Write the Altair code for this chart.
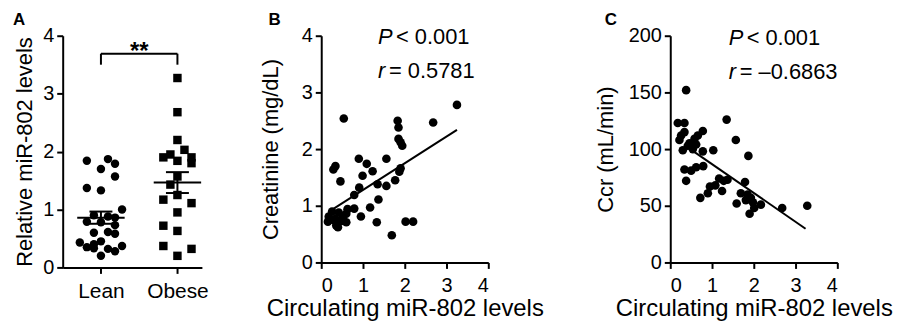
import altair as alt
import pandas as pd

FONT = "Liberation Sans"

# ---------------- Panel A data ----------------
groups = ["Lean", "Obese"]
lean_vals = [1.84, 1.87, 1.79, 1.70, 1.57, 1.37, 1.33, 1.00, 0.90, 0.88, 0.86, 0.79, 0.78,
             0.73, 0.60, 0.61, 0.58, 0.45, 0.43, 0.40, 0.37, 0.35, 0.33, 0.32, 0.28, 0.20]
lean_slot = [-2, 1, 2, 0, 2, -2, 0, 3, -1, 1, 2, -2, 0,
             2, -1, 1, 2, 0, -3, -1, 3, -2, -1, 1, 2, 0]
obese_vals = [3.27, 2.68, 2.20, 2.03, 1.95, 1.90, 1.84, 1.90, 1.80, 1.57, 1.43, 1.25, 1.17,
              1.11, 0.95, 0.72, 0.63, 0.37, 0.32, 0.20]
obese_slot = [0, 0, 0, 1, -1, -2, 0, 2, 2, 0, -1, 0, -2,
              2, 0, -2, 0, -2, 2, 0]
bracket_top = 3.69
bracket_bottom = 3.50
sig_label = "**"
a_ticks = [0, 1, 2, 3, 4]

# ---------------- Panel B data ----------------
b_x = [3.25, 2.68, 1.83, 1.85, 1.85, 1.90, 1.94, 0.54, 0.34, 0.29, 0.46, 0.90, 1.09, 1.23, 0.99,
       1.56, 1.90, 1.87, 1.77, 1.56, 1.35, 0.91, 0.79, 1.37, 1.17, 0.95, 1.33, 1.69, 2.02, 2.20,
       0.79, 0.63, 0.60, 0.52, 0.60, 0.42, 0.26, 0.18, 0.16, 0.29, 0.36, 0.40, 0.34, 0.48]
b_y = [2.78, 2.47, 2.50, 2.38, 2.18, 2.12, 2.06, 2.54, 1.70, 1.64, 1.43, 1.83, 1.74, 1.61, 1.53,
       1.83, 1.66, 1.60, 1.45, 1.35, 1.38, 1.32, 1.19, 1.11, 0.97, 0.81, 0.71, 0.48, 0.72, 0.72,
       0.95, 0.94, 0.86, 0.80, 0.71, 0.88, 0.90, 0.81, 0.72, 0.75, 0.65, 0.62, 0.77, 0.73]
b_line_extent = [0.30, 3.25]
b_ticks_x = [0, 1, 2, 3, 4]
b_ticks_y = [0, 1, 2, 3, 4]
b_stat_sym = ["P", "r"]
b_stat_rest = ["< 0.001", "= 0.5781"]
b_stat_x = [1.36, 1.36]
b_stat_y = [3.85, 3.25]

# ---------------- Panel C data ----------------
c_x = [0.38, 0.18, 0.34, 1.35, 1.57, 0.78, 0.26, 0.34, 0.58, 0.66, 0.46, 0.30, 0.54, 0.78, 1.03,
       1.87, 0.34, 0.50, 0.62, 0.79, 0.38, 0.72, 0.90, 0.95, 1.08, 1.17, 1.24, 1.37, 1.79, 1.59,
       1.69, 1.81, 1.93, 1.90, 2.01, 2.17, 2.68, 3.28, 0.42, 0.22, 0.62, 1.28, 1.98, 1.85]
c_y = [152, 123, 123, 126, 108, 116, 112, 115, 109, 112, 105, 99, 100, 98, 99,
       94, 82, 81, 84, 85, 72, 57, 61, 67, 68, 74, 63, 73, 71, 52,
       61, 55, 57, 43, 48, 51, 48, 50, 103, 108, 104, 72, 53, 60]
c_line_extent = [0.40, 3.24]
c_ticks_x = [0, 1, 2, 3, 4]
c_ticks_y = [0, 50, 100, 150, 200]
c_stat_sym = ["P", "r"]
c_stat_rest = ["< 0.001", "= \u20130.6863"]
c_stat_x = [1.40, 1.40]
c_stat_y = [192, 162]

panel_letters = ["A", "B", "C"]

BLACK = "#000000"


def letter(ch, dx):
    return alt.Chart(pd.DataFrame({"t": [ch]})).mark_text(
        font=FONT, fontSize=17, fontWeight="bold", align="left", baseline="alphabetic", color=BLACK
    ).encode(x=alt.value(dx), y=alt.value(-11), text="t:N")


# ---------------- Panel A ----------------
dfA = pd.DataFrame({
    "group": [groups[0]] * len(lean_vals) + [groups[1]] * len(obese_vals),
    "value": lean_vals + obese_vals,
    "slot": lean_slot + obese_slot,
})
dfA["gi"] = dfA["group"].map({groups[0]: 1, groups[1]: 2})

xscaleA = alt.Scale(domain=[0.5, 2.32], nice=False, zero=False)
yscaleA = alt.Scale(domain=[0, 4], nice=False)
xaxisA = alt.Axis(values=[1, 2], labelExpr="datum.value == 1 ? 'Lean' : 'Obese'", title=None,
                  labelFontSize=21, labelPadding=7)
yaxisA = alt.Axis(values=a_ticks, title="Relative miR-802 levels", titlePadding=6)


def XA(f):
    return alt.X(f, type="quantitative", scale=xscaleA, axis=xaxisA)


def YA(f):
    return alt.Y(f, type="quantitative", scale=yscaleA, axis=yaxisA)


ptsA = alt.Chart(dfA).transform_calculate(pos="datum.gi + datum.slot * 0.092").mark_point(
    filled=True, opacity=1, size=72, color=BLACK
).encode(
    x=XA("pos"), y=YA("value"),
    shape=alt.Shape("group:N", scale=alt.Scale(domain=groups, range=["circle", "square"]), legend=None),
)

stats = alt.Chart(dfA).transform_aggregate(
    mean="mean(value)", sem="stderr(value)", groupby=["group", "gi"]
).transform_calculate(
    lo="datum.mean - datum.sem", hi="datum.mean + datum.sem",
    ml="datum.gi - 0.31", mr="datum.gi + 0.31", sl="datum.gi - 0.15", sr="datum.gi + 0.15"
)
meanA = stats.mark_rule(color=BLACK, strokeWidth=2).encode(x=XA("ml"), x2="mr:Q", y=YA("mean"))
semHi = stats.mark_rule(color=BLACK, strokeWidth=2).encode(x=XA("sl"), x2="sr:Q", y=YA("hi"))
semLo = stats.mark_rule(color=BLACK, strokeWidth=2).encode(x=XA("sl"), x2="sr:Q", y=YA("lo"))
semV = stats.mark_rule(color=BLACK, strokeWidth=2).encode(x=XA("gi"), y=YA("lo"), y2="hi:Q")

dfBr = pd.DataFrame({
    "x1": [1, 1, 2], "x2": [2, 1, 2],
    "y1": [bracket_top, bracket_bottom, bracket_bottom],
    "y2": [bracket_top, bracket_top, bracket_top],
})
bracket = alt.Chart(dfBr).mark_rule(color=BLACK, strokeWidth=2).encode(
    x=XA("x1"), x2="x2:Q", y=YA("y1"), y2="y2:Q")
sig = alt.Chart(pd.DataFrame({"x": [1.5], "y": [3.60], "t": [sig_label]})).mark_text(
    font=FONT, fontSize=24, fontWeight="bold", baseline="alphabetic", color=BLACK
).encode(x=XA("x"), y=YA("y"), text="t:N")

panelA = alt.layer(ptsA, meanA, semHi, semLo, semV, bracket, sig, letter(panel_letters[0], -50)).properties(
    width=140, height=233)


# ---------------- Scatter panels ----------------
def scatter_panel(xs, ys, extent, ydom, xticks, yticks, ytitle, ytp, syms, rests, sx, sy, lt, ldx):
    df = pd.DataFrame({"x": xs, "y": ys})
    xsc = alt.Scale(domain=[0, 4], nice=False)
    ysc = alt.Scale(domain=ydom, nice=False)
    xax = alt.Axis(values=xticks, title="Circulating miR-802 levels", labelPadding=7, titlePadding=1)
    yax = alt.Axis(values=yticks, title=ytitle, titlePadding=ytp)

    def X(f):
        return alt.X(f, type="quantitative", scale=xsc, axis=xax)

    def Y(f):
        return alt.Y(f, type="quantitative", scale=ysc, axis=yax)

    pts = alt.Chart(df).mark_circle(size=75, opacity=1, color=BLACK).encode(x=X("x"), y=Y("y"))
    line = alt.Chart(df).transform_regression("x", "y", extent=extent).mark_line(
        color=BLACK, strokeWidth=2).encode(x=X("x"), y=Y("y"))
    dfs = pd.DataFrame({"x": sx, "y": sy, "s": syms, "r": rests, "row": [0, 1]})
    t1 = alt.Chart(dfs).mark_text(font=FONT, fontSize=22, fontStyle="italic", align="left",
                                  baseline="alphabetic", color=BLACK).encode(
        x=X("x"), y=Y("y"), text="s:N")
    t2 = alt.Chart(dfs).transform_filter("datum.row == 0").mark_text(
        font=FONT, fontSize=22, align="left", baseline="alphabetic", color=BLACK, dx=18
    ).encode(x=X("x"), y=Y("y"), text="r:N")
    t3 = alt.Chart(dfs).transform_filter("datum.row == 1").mark_text(
        font=FONT, fontSize=22, align="left", baseline="alphabetic", color=BLACK, dx=11
    ).encode(x=X("x"), y=Y("y"), text="r:N")
    return alt.layer(pts, line, t1, t2, t3, letter(lt, ldx)).properties(width=168, height=228)


panelB = scatter_panel(b_x, b_y, b_line_extent, [0, 4], b_ticks_x, b_ticks_y, "Creatinine (mg/dL)", 19,
                       b_stat_sym, b_stat_rest, b_stat_x, b_stat_y, panel_letters[1], -53)
panelC = scatter_panel(c_x, c_y, c_line_extent, [0, 200], c_ticks_x, c_ticks_y, "Ccr (mL/min)", 11,
                       c_stat_sym, c_stat_rest, c_stat_x, c_stat_y, panel_letters[2], -66)

chart = alt.hconcat(panelA, panelB, panelC, spacing=50).properties(
    padding={"left": 5, "top": 2, "right": 0, "bottom": 0}
).configure_view(stroke=None).configure_axis(
    labelFont=FONT, titleFont=FONT, labelFontSize=20, titleFontSize=22, titleFontWeight="normal",
    labelColor=BLACK, titleColor=BLACK, domainColor=BLACK, tickColor=BLACK,
    domainWidth=2, tickWidth=2, tickSize=6, grid=False, labelPadding=3
).configure_axisX(titleFontSize=24)

chart.save("out.html", embed_options={"renderer": "svg", "actions": False})
